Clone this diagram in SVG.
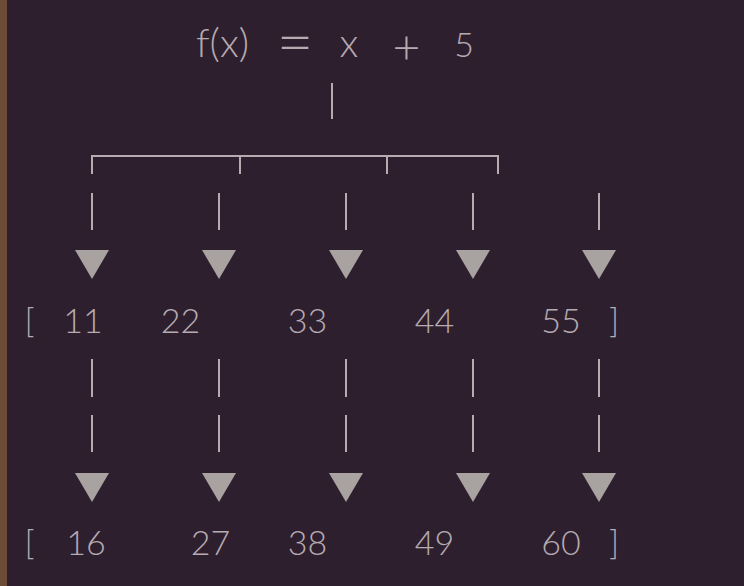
<svg xmlns="http://www.w3.org/2000/svg" width="744" height="586" viewBox="0 0 744 586">
<style>
.t{font-family:Lato,"Noto Sans","Liberation Sans",sans-serif;font-size:34px;font-weight:300;fill:#b6abb1;text-anchor:middle}
.big{font-size:40px}
.eq{font-size:64px}
.pl{font-size:48px}
.c{stroke:#b6abb1;stroke-width:2;fill:none}
.a{fill:#a8a3a1}
</style>
<defs>
<polygon id="tri" class="a" points="-17,0 17,0 0,29"/>
</defs>
<rect x="0" y="0" width="744" height="586" fill="#2e1f2e"/>
<rect x="0" y="0" width="7" height="586" fill="#6d4c37"/>
<g id="formula">
<text class="t big" x="222.5" y="57">f(x)</text>
<text class="t eq" x="295" y="64">=</text>
<text class="t big" x="349" y="57">x</text>
<text class="t pl" x="406.5" y="64">+</text>
<text class="t" x="464" y="57">5</text>
</g>
<g id="input">
<text class="t" x="29.5" y="333">[</text>
<text class="t" x="83" y="333">11</text>
<text class="t" x="180.5" y="333">22</text>
<text class="t" x="307.5" y="333">33</text>
<text class="t" x="434.5" y="333">44</text>
<text class="t" x="561" y="333">55</text>
<text class="t" x="614" y="333">]</text>
</g>
<g id="output">
<text class="t" x="29.5" y="555">[</text>
<text class="t" x="86" y="555">16</text>
<text class="t" x="210.5" y="555">27</text>
<text class="t" x="307.5" y="555">38</text>
<text class="t" x="434.5" y="555">49</text>
<text class="t" x="561" y="555">60</text>
<text class="t" x="614" y="555">]</text>
</g>
<g id="connectors">
<line class="c" x1="332" y1="83" x2="332" y2="119"/>
<polyline class="c" points="92,174 92,156 498,156 498,174"/>
<line class="c" x1="240" y1="156" x2="240" y2="174"/>
<line class="c" x1="387" y1="156" x2="387" y2="174"/>
<g>
<line class="c" x1="92" y1="193" x2="92" y2="230"/>
<line class="c" x1="219" y1="193" x2="219" y2="230"/>
<line class="c" x1="346" y1="193" x2="346" y2="230"/>
<line class="c" x1="473" y1="193" x2="473" y2="230"/>
<line class="c" x1="599" y1="193" x2="599" y2="230"/>
</g>
<use href="#tri" x="92" y="250"/>
<use href="#tri" x="219" y="250"/>
<use href="#tri" x="346" y="250"/>
<use href="#tri" x="473" y="250"/>
<use href="#tri" x="599" y="250"/>
<g>
<line class="c" x1="92" y1="359" x2="92" y2="397"/>
<line class="c" x1="219" y1="359" x2="219" y2="397"/>
<line class="c" x1="346" y1="359" x2="346" y2="397"/>
<line class="c" x1="473" y1="359" x2="473" y2="397"/>
<line class="c" x1="599" y1="359" x2="599" y2="397"/>
<line class="c" x1="92" y1="415" x2="92" y2="452"/>
<line class="c" x1="219" y1="415" x2="219" y2="452"/>
<line class="c" x1="346" y1="415" x2="346" y2="452"/>
<line class="c" x1="473" y1="415" x2="473" y2="452"/>
<line class="c" x1="599" y1="415" x2="599" y2="452"/>
</g>
<use href="#tri" x="92" y="473"/>
<use href="#tri" x="219" y="473"/>
<use href="#tri" x="346" y="473"/>
<use href="#tri" x="473" y="473"/>
<use href="#tri" x="599" y="473"/>
</g>
</svg>
